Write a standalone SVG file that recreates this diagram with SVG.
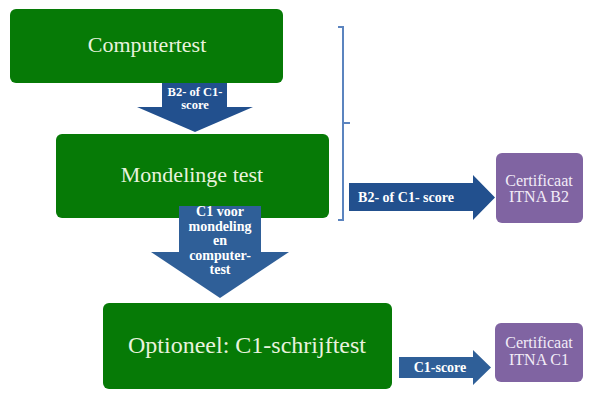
<svg xmlns="http://www.w3.org/2000/svg" width="593" height="400" viewBox="0 0 593 400">
<style>
.box{fill:#067a06;}
.cert{fill:#8064a2;}
.arr1{fill:#22508e;}
.arr2{fill:#2f5f98;}
.lbl{font-family:"Liberation Serif",serif;fill:#e8f3de;text-anchor:middle;}
.al{font-family:"Liberation Serif",serif;font-weight:bold;fill:#ffffff;text-anchor:middle;font-size:14px;}
.cl{font-family:"Liberation Serif",serif;fill:#f2ecf7;text-anchor:middle;font-size:16px;}
</style>
<rect width="593" height="400" fill="#ffffff"/>
<g id="computertest">
<rect class="box" x="10" y="9" width="273" height="74" rx="6"/>
<text class="lbl" x="147" y="52" font-size="22">Computertest</text>
</g>
<g id="mondelinge">
<rect class="box" x="56" y="134" width="273" height="84" rx="6"/>
<text class="lbl" x="192" y="182" font-size="22">Mondelinge test</text>
</g>
<g id="optioneel">
<rect class="box" x="103" y="303" width="289" height="86" rx="6"/>
<text class="lbl" x="247" y="353" font-size="24">Optioneel: C1-schrijftest</text>
</g>
<g id="cert-b2">
<rect class="cert" x="496" y="153" width="87" height="70" rx="6"/>
<text class="cl" x="539" y="186">Certificaat</text>
<text class="cl" x="539" y="202">ITNA B2</text>
</g>
<g id="cert-c1">
<rect class="cert" x="495" y="323" width="88" height="59" rx="6"/>
<text class="cl" x="539" y="348">Certificaat</text>
<text class="cl" x="539" y="365">ITNA C1</text>
</g>
<g id="connectors">
<polygon class="arr1" points="162,83 227,83 227,107 253,107 195,132 137,107 162,107"/>
<text class="al" x="195" y="96" font-size="12.5" style="font-size:12.5px">B2- of C1-</text>
<text class="al" x="195" y="109" style="font-size:12.5px">score</text>
<polygon class="arr2" points="179,206 261,206 261,252 289,252 220,298 151,252 179,252"/>
<text class="al" x="220" y="216">C1 voor</text>
<text class="al" x="220" y="230.5">mondeling</text>
<text class="al" x="220" y="245">en</text>
<text class="al" x="220" y="259.5">computer-</text>
<text class="al" x="220" y="274">test</text>
<path d="M338,27 L343,27 L343,220 L338,220 M343,123 L350,123" fill="none" stroke="#5b84bf" stroke-width="2"/>
<polygon class="arr1" points="349,183 473,183 473,175 495,197.5 473,220 473,211 349,211"/>
<text class="al" x="406" y="202">B2- of C1- score</text>
<polygon class="arr2" points="399,357 473,357 473,350 491,367.5 473,385 473,378 399,378"/>
<text class="al" x="440" y="372">C1-score</text>
</g>
</svg>
